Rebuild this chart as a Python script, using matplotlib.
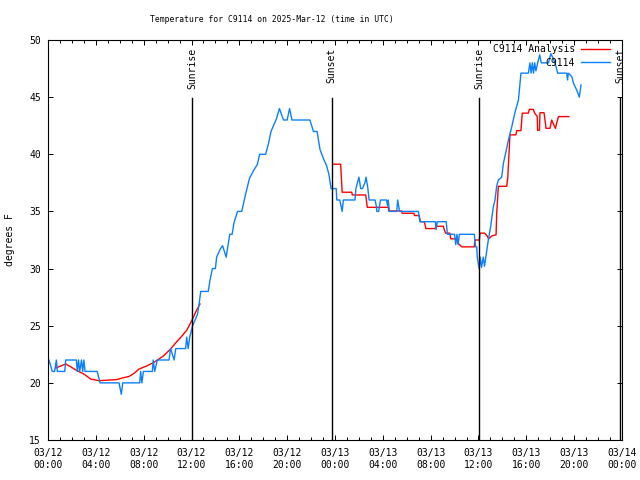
import numpy as np
import matplotlib
matplotlib.use("Agg")
import matplotlib.pyplot as plt

# ---------------- data ----------------
title = "Temperature for C9114 on 2025-Mar-12 (time in UTC)"
y_label = "degrees F"

# hours since 2025-03-12 00:00 UTC (observations)
obs_hours = [
    0.08, 0.36, 0.55, 0.70, 0.78, 1.40, 1.48, 2.37, 2.45, 2.55,
    2.65, 2.80, 2.90, 3.00, 3.10, 3.29, 4.12, 4.35, 5.94, 6.13,
    6.25, 7.67, 7.75, 7.85, 7.98, 8.72, 8.80, 8.92, 9.14, 10.12,
    10.25, 10.55, 10.68, 11.51, 11.60, 11.72, 11.85, 12.10, 12.50, 12.65,
    12.77, 13.40, 13.55, 13.75, 14.00, 14.10, 14.40, 14.60, 14.90, 15.05,
    15.20, 15.40, 15.55, 15.85, 16.20, 16.50, 16.85, 17.20, 17.50, 17.70,
    18.20, 18.45, 18.65, 18.90, 19.10, 19.35, 19.70, 20.00, 20.20, 20.40,
    21.90, 22.20, 22.50, 22.75, 23.08, 23.30, 23.50, 23.67, 24.10, 24.15,
    24.40, 24.60, 24.70, 25.67, 25.75, 26.00, 26.15, 26.30, 26.50, 26.60,
    26.75, 26.85, 27.35, 27.45, 27.50, 27.65, 27.80, 28.30, 28.40, 28.45,
    28.55, 29.16, 29.24, 29.32, 29.40, 30.97, 31.10, 32.40, 32.45, 32.55,
    33.30, 33.40, 34.00, 34.10, 34.20, 34.30, 34.40, 35.65, 35.75, 35.85,
    35.90, 36.05, 36.15, 36.25, 36.40, 36.50, 36.68, 36.82, 37.02, 37.24,
    37.38, 37.52, 37.66, 37.94, 38.08, 38.27, 38.50, 38.78, 39.06, 39.34,
    39.55, 40.17, 40.30, 40.40, 40.50, 40.60, 40.70, 40.80, 40.95, 41.12,
    41.25, 41.45, 41.85, 42.05, 42.25, 42.45, 42.62, 43.37, 43.45, 43.50,
    43.80, 43.95, 44.22, 44.43, 44.57]
obs_temps = [
    22, 21, 21, 22, 21, 21, 22, 22, 21, 22,
    21, 22, 21, 22, 21, 21, 21, 20, 20, 19,
    20, 20, 21, 20, 21, 21, 22, 21, 22, 22,
    23, 22, 23, 23, 24, 23, 24, 25, 26, 27,
    28, 28, 29, 30, 30, 31, 31.7, 32, 31, 32,
    33, 33, 34, 35, 35, 36.4, 37.9, 38.6, 39.1, 40,
    40, 41, 42, 42.6, 43.1, 44, 43, 43, 44, 43,
    43, 42, 42, 40.4, 39.5, 39, 38.2, 37, 37, 36,
    36, 35, 36, 36, 37, 38, 37, 37, 37.5, 38,
    37, 36, 36, 35.5, 35, 35, 36, 36, 35.5, 36,
    35, 35, 36, 35.5, 35, 35, 34.1, 34.1, 33.4, 34.1,
    34.1, 33, 33, 32.1, 33, 32.1, 33, 33, 31.9, 31.9,
    31, 30, 31, 30.1, 31, 30.2, 31.5, 32.5, 33.7, 35.4,
    36, 37.2, 37.75, 38, 39.2, 40.1, 41.25, 42.4, 43.7, 44.75,
    47.1, 47.1, 48, 47.1, 48, 47.1, 48, 47.3, 48, 48.7,
    48, 48, 48, 48.8, 48.4, 47.8, 47.1, 47.1, 46.5, 47.1,
    46.8, 46.2, 45.6, 45, 46.06]

# analysis (NaN = gap in the series)
ana_hours = [
    0.64, 1.48, 1.90, 2.45, 3.00, 3.57, 4.26, 5.20, 5.70, 6.20,
    6.80, 7.20, 7.60, 8.30, 8.86, 9.30, 9.70, 10.25, 10.68, 11.10,
    11.60, 12.00, 12.40, 12.71, 18.00, 23.86, 24.47, 24.60, 25.40, 25.45,
    26.57, 26.70, 28.46, 28.50, 29.58, 29.62, 30.60, 30.65, 31.03, 31.15,
    31.47, 31.60, 32.36, 32.45, 33.06, 33.14, 33.25, 33.60, 33.68, 34.18,
    34.30, 34.60, 35.65, 35.70, 36.07, 36.13, 36.50, 36.70, 36.85, 37.10,
    37.47, 37.52, 37.66, 38.36, 38.45, 38.63, 39.13, 39.20, 39.55, 39.66,
    40.17, 40.25, 40.58, 40.70, 40.91, 40.95, 41.10, 41.14, 41.48, 41.65,
    41.98, 42.12, 42.43, 42.68, 43.55]
ana_temps = [
    21.3, 21.65, 21.4, 21.06, 20.77, 20.33, 20.19, 20.25, 20.28, 20.42,
    20.57, 20.83, 21.2, 21.5, 21.8, 22.1, 22.4, 22.96, 23.5, 23.98,
    24.6, 25.4, 26.3, 26.9, np.nan, 39.13, 39.13, 36.68, 36.68, 36.44,
    36.44, 35.36, 35.36, 35.04, 35.04, 34.84, 34.84, 34.64, 34.64, 34.1,
    34.1, 33.5, 33.5, 33.7, 33.7, 33.4, 33.1, 33.1, 32.6, 32.6,
    32.2, 31.9, 31.9, 32.5, 32.5, 33.1, 33.1, 32.9, 32.6, 32.85,
    32.95, 34.8, 37.2, 37.2, 38.0, 41.7, 41.7, 42.07, 42.07, 43.6,
    43.6, 43.93, 43.93, 43.6, 43.3, 42.1, 42.1, 43.64, 43.64, 42.27,
    42.27, 43.0, 42.27, 43.3, 43.3]

event_hours = [12.07, 23.72, 36.04, 47.83]
event_labels = ["Sunrise", "Sunset", "Sunrise", "Sunset"]

series_labels = ["C9114 Analysis", "C9114"]
x_ticks = [0, 4, 8, 12, 16, 20, 24, 28, 32, 36, 40, 44, 48]
x_tick_labels = ["03/12\n00:00", "03/12\n04:00", "03/12\n08:00", "03/12\n12:00",
                 "03/12\n16:00", "03/12\n20:00", "03/13\n00:00", "03/13\n04:00",
                 "03/13\n08:00", "03/13\n12:00", "03/13\n16:00", "03/13\n20:00",
                 "03/14\n00:00"]
y_ticks = [15, 20, 25, 30, 35, 40, 45, 50]

# ---------------- style ----------------
FONT = "DejaVu Sans Mono"
plt.rcParams["font.family"] = FONT
plt.rcParams["font.size"] = 7
RED = "#ff0000"
BLUE = "#0a80ff"

fig = plt.figure(figsize=(6.4, 4.8), dpi=100)
ax = fig.add_axes([48/640, 1 - 440/480, 574/640, 400/480])

ax.plot(ana_hours, ana_temps, color=RED, lw=1.0)
ax.plot(obs_hours, obs_temps, color=BLUE, lw=1.0)

ax.set_xlim(0, 48)
ax.set_ylim(15, 50)
ax.set_xticks(x_ticks)
ax.set_xticklabels(x_tick_labels)
ax.set_xticks(np.arange(0, 49, 1), minor=True)
ax.set_yticks(y_ticks)
ax.set_yticklabels([str(v) for v in y_ticks])

ax.tick_params(which="both", direction="in", top=True, right=True, width=0.7, colors="black")
ax.tick_params(which="major", length=3.5)
ax.tick_params(which="minor", length=2.0)
ax.tick_params(axis="x", which="major", pad=6)
ax.tick_params(axis="y", which="major", pad=5)
for sp in ax.spines.values():
    sp.set_linewidth(0.8)

# sunrise / sunset markers
trans = ax.get_xaxis_transform()
for h, lab in zip(event_hours, event_labels):
    ax.axvline(h, ymin=0, ymax=(440 - 98.5) / 400, color="black", lw=1.0)
    ax.text(h, (440 - 48) / 400, lab, rotation=90, ha="center", va="top",
            transform=trans, fontsize=7)

# legend (right-justified, gnuplot style)
leg_y = [(440 - 49.5) / 400, (440 - 63) / 400]
for lab, col, yy in zip(series_labels, [RED, BLUE], leg_y):
    ax.text((575 - 48) / 574, yy, lab, ha="right", va="center", transform=ax.transAxes, fontsize=7)
    ax.plot([(581 - 48) / 574, (610 - 48) / 574], [yy + 0.002, yy + 0.002], color=col, lw=1.0,
            transform=ax.transAxes, clip_on=False)

fig.text(271.5/640, 1 - 20/480, title, ha="center", va="center", fontsize=5.8)
fig.text(10/640, 0.5, y_label, rotation=90, ha="center", va="center", fontsize=7)

fig.savefig("out.png", dpi=100)
